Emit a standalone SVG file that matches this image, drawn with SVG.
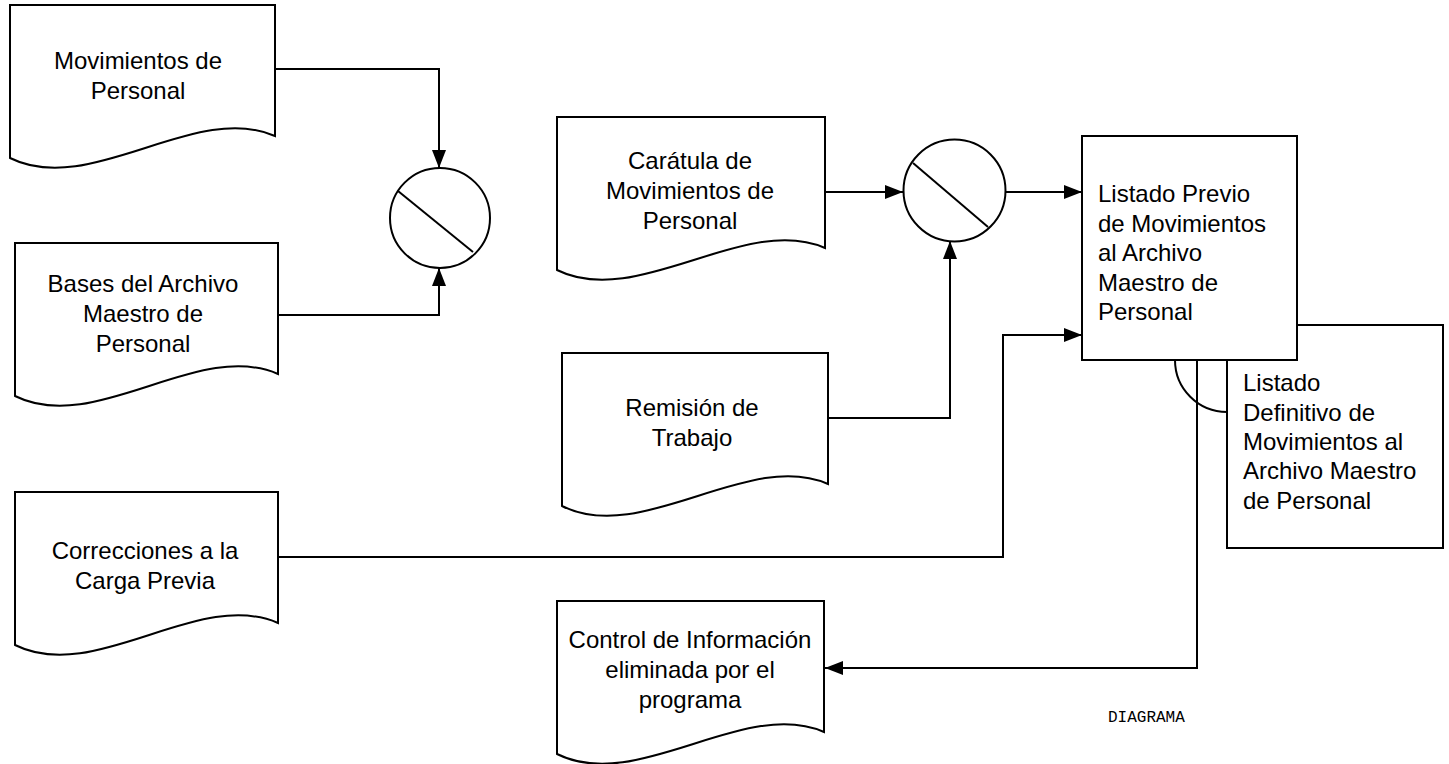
<svg xmlns="http://www.w3.org/2000/svg" width="1449" height="764" viewBox="0 0 1449 764">
  <defs>
    <marker id="arrow" viewBox="0 0 18 14" refX="18" refY="7" markerWidth="18" markerHeight="14" markerUnits="userSpaceOnUse" orient="auto">
      <path d="M0,0 L18,7 L0,14 Z" fill="#000"/>
    </marker>
    <style>
      .shape { fill: #fff; stroke: #000; stroke-width: 2; }
      .line { fill: none; stroke: #000; stroke-width: 2; }
      .conn { fill: none; stroke: #000; stroke-width: 2; marker-end: url(#arrow); }
      .label { font-family: "Liberation Sans", Arial, sans-serif; font-size: 24px; fill: #000; }
      .mid { text-anchor: middle; }
      .caption { font-family: "Liberation Mono", "Courier New", monospace; font-size: 16px; fill: #000; }
    </style>
  </defs>

  <rect width="1449" height="764" fill="#fff"/>

  <!-- Document inputs -->
  <g id="doc-movimientos">
    <path class="shape" d="M10,5 H275 V136 C195,101 90,198 10,158 Z"/>
    <text class="label mid" x="138" y="69">Movimientos de</text>
    <text class="label mid" x="138" y="99">Personal</text>
  </g>

  <g id="doc-bases">
    <path class="shape" d="M15,243 H278 V374 C198,339 95,436 15,396 Z"/>
    <text class="label mid" x="143" y="292">Bases del Archivo</text>
    <text class="label mid" x="143" y="322">Maestro de</text>
    <text class="label mid" x="143" y="352">Personal</text>
  </g>

  <g id="doc-caratula">
    <path class="shape" d="M557,117 H825 V248 C745,213 637,310 557,270 Z"/>
    <text class="label mid" x="690" y="169">Carátula de</text>
    <text class="label mid" x="690" y="199">Movimientos de</text>
    <text class="label mid" x="690" y="229">Personal</text>
  </g>

  <g id="doc-remision">
    <path class="shape" d="M562,353 H828 V484 C748,449 642,546 562,506 Z"/>
    <text class="label mid" x="692" y="416">Remisión de</text>
    <text class="label mid" x="692" y="446">Trabajo</text>
  </g>

  <g id="doc-correcciones">
    <path class="shape" d="M15,492 H278 V623 C198,588 95,685 15,645 Z"/>
    <text class="label mid" x="145" y="559">Correcciones a la</text>
    <text class="label mid" x="145" y="589">Carga Previa</text>
  </g>

  <g id="doc-control">
    <path class="shape" d="M557,601 H824 V732 C744,697 637,794 557,754 Z"/>
    <text class="label mid" x="690" y="648">Control de Información</text>
    <text class="label mid" x="690" y="678">eliminada por el</text>
    <text class="label mid" x="690" y="708">programa</text>
  </g>

  <!-- Collate operations -->
  <g id="collate-1">
    <circle class="shape" cx="440" cy="218" r="50"/>
    <line class="line" x1="398" y1="191" x2="473" y2="252"/>
  </g>

  <g id="collate-2">
    <circle class="shape" cx="954.5" cy="190.5" r="51"/>
    <line class="line" x1="913" y1="163" x2="988" y2="227"/>
  </g>

  <!-- Connectors -->
  <g id="connectors">
    <path class="conn" d="M275,69 H439 V168"/>
    <path class="conn" d="M278,315 H439 V268"/>
    <path class="conn" d="M825,192 H903"/>
    <path class="conn" d="M828,418 H950 V241"/>
    <path class="conn" d="M1006,192 H1082"/>
    <path class="conn" d="M278,557 H1003 V335 H1082"/>
    <path class="conn" d="M1197,360 V668 H825"/>
    <path class="line" d="M1175,360 A52,52 0 0 0 1227,412"/>
  </g>

  <!-- Output listings -->
  <g id="listado-definitivo">
    <rect class="shape" x="1227" y="325" width="216" height="223"/>
    <text class="label" x="1243" y="391">Listado</text>
    <text class="label" x="1243" y="421">Definitivo de</text>
    <text class="label" x="1243" y="450">Movimientos al</text>
    <text class="label" x="1243" y="479">Archivo Maestro</text>
    <text class="label" x="1243" y="509">de Personal</text>
  </g>

  <g id="listado-previo">
    <rect class="shape" x="1082" y="136" width="215" height="224"/>
    <text class="label" x="1098" y="202">Listado Previo</text>
    <text class="label" x="1098" y="232">de Movimientos</text>
    <text class="label" x="1098" y="261">al Archivo</text>
    <text class="label" x="1098" y="291">Maestro de</text>
    <text class="label" x="1098" y="320">Personal</text>
  </g>

  <text class="caption" x="1108" y="722">DIAGRAMA</text>
</svg>
